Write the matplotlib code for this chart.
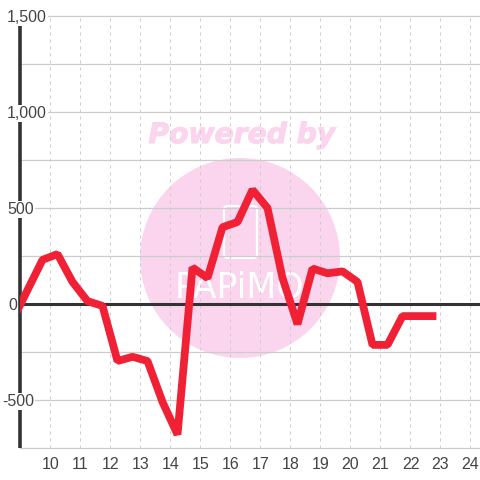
import matplotlib
matplotlib.use("Agg")
import matplotlib.pyplot as plt
import matplotlib.patheffects as pe
from matplotlib.patches import Circle, FancyBboxPatch
from matplotlib.transforms import IdentityTransform

hours = [8.75, 9.75, 10.25, 10.75, 11.25, 11.75, 12.25, 12.75, 13.25, 13.75, 14.25, 14.75,
         15.25, 15.75, 16.25, 16.75, 17.25, 17.75, 18.25, 18.75, 19.25, 19.75, 20.25,
         20.75, 21.25, 21.75, 22.25, 22.75]
values = [-85, 230, 260, 115, 15, -10, -297, -275, -297, -510, -680, 190,
          135, 400, 427, 595, 500, 135, -105, 185, 160, 170, 115,
          -213, -213, -63, -63, -63]
x_ticks = list(range(10, 25))
y_major = [1500, 1000, 500, 0, -500]
y_minor = [1250, 750, 250, -250, -750]
y_labels = ["1,500", "1,000", "500", "0", "-500"]
y_label_px = [7, 7, 7, 8, 2]

W = 480
fig = plt.figure(figsize=(4.8, 4.8), dpi=100)
fig.patch.set_facecolor("white")
ax = fig.add_axes([20 / W, 32 / W, (W - 20) / W, 432 / W])
ax.patch.set_visible(False)
ax.set_xlim(9, 9 + (W - 20) / 30)
ax.set_ylim(-750, 1500)
for s in ax.spines.values():
    s.set_visible(False)

grey = "#cccccc"
dark = "#333333"
pink = "#fbd5ee"
tr = IdentityTransform()

# watermark (pixel coordinates, origin bottom-left)
fig.add_artist(Circle((240, W - 258), 100, transform=tr, fc=pink, ec="none", zorder=-2))
fig.text(242 / W, 1 - 135 / W, "Powered by", ha="center", va="center", color=pink,
         fontsize=20.3, fontweight="bold", style="italic", family="DejaVu Sans", zorder=-2,
         path_effects=[pe.withStroke(linewidth=0.8, foreground=pink)])
fig.add_artist(FancyBboxPatch((224, W - 258), 33, 52, boxstyle="round,pad=0,rounding_size=4",
                              transform=tr, fc="none", ec="white", lw=1.6, zorder=-1))
fig.text(240 / W, 1 - 288 / W, "PAPiMO", ha="center", va="center", color="white",
         fontsize=25, family="DejaVu Sans", zorder=-1)

for v in y_major + y_minor:
    ax.axhline(v, color=grey, lw=0.9, zorder=1, clip_on=False)
for t in x_ticks:
    ax.axvline(t, color=grey, lw=0.72, ls=(0, (3, 4)), zorder=1)

ax.axhline(0, color=dark, lw=2.2, zorder=2)
ax.plot([9, 9], [-750, 1500], color=dark, lw=2.6, zorder=2, solid_capstyle="butt", clip_on=False)

ax.plot(hours, values, color="#f02035", lw=5.6, zorder=3,
        solid_joinstyle="bevel", solid_capstyle="projecting")

ax.set_xticks([])
ax.set_yticks([])
for t in x_ticks:
    ax.annotate(str(t), xy=(t, -750), xycoords="data",
                xytext=(0.4, -6.2), textcoords="offset points", ha="center", va="top",
                color="#444444", fontsize=11.5, family="Liberation Sans", zorder=5,
                annotation_clip=False)
for v, lab, px in zip(y_major, y_labels, y_label_px):
    ax.annotate(lab, xy=(0, v), xycoords=("axes fraction", "data"),
                xytext=((px - 20) * 0.72, -1.2), textcoords="offset points",
                ha="left", va="center", color="#444444", fontsize=11.5,
                family="Liberation Sans", zorder=5, annotation_clip=False,
                bbox=dict(fc="white", ec="none", pad=0.8))

fig.savefig("out.png", dpi=100)
